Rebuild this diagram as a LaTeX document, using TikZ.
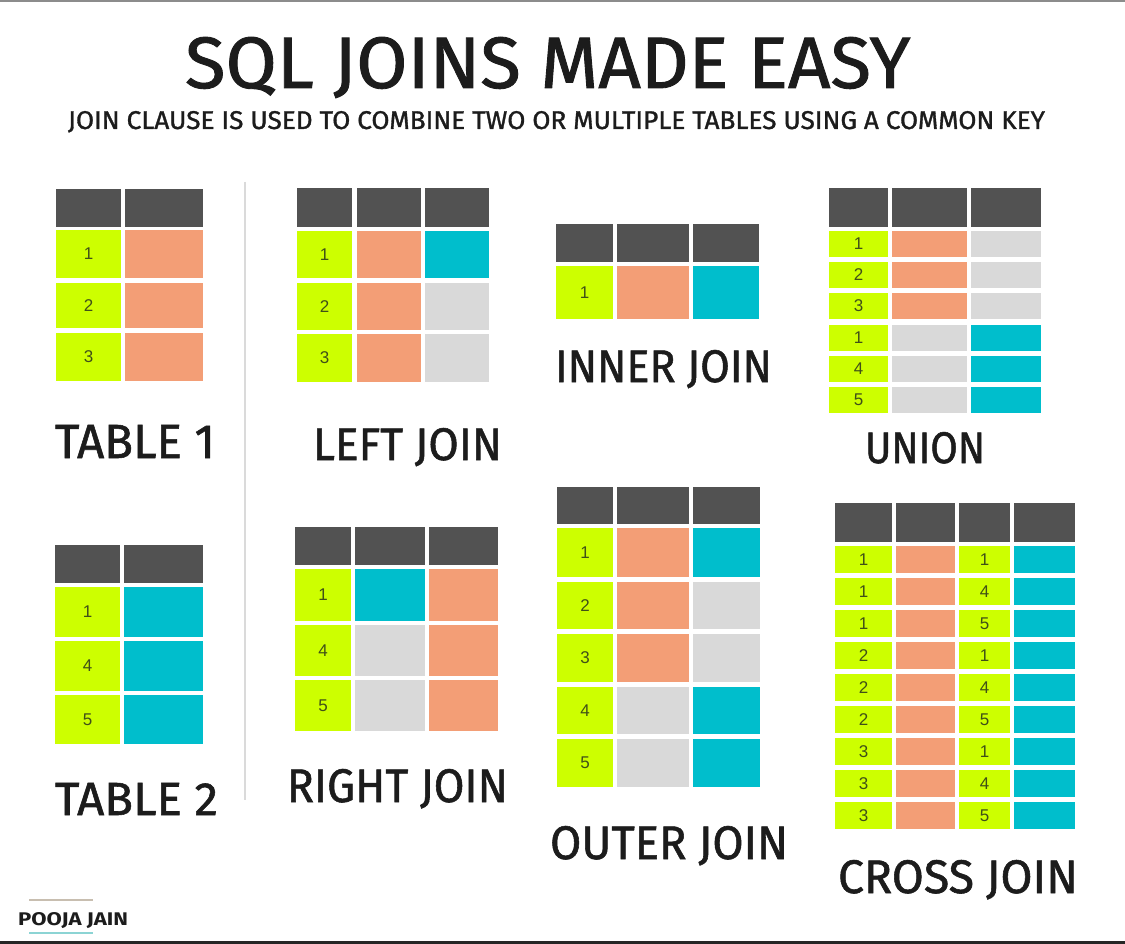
\documentclass[tikz,border=0pt]{standalone}
\usepackage{fontspec}
\usepackage{graphicx}
\setmainfont{Fira Sans}
\newfontfamily\digitfont{Liberation Sans}
\newfontfamily\brushfont[FakeBold=1.2]{Fira Sans}

\definecolor{sqlhdr}{RGB}{82,82,82}
\definecolor{sqllime}{RGB}{205,255,0}
\definecolor{sqlsalmon}{RGB}{243,158,118}
\definecolor{sqlteal}{RGB}{0,190,204}
\definecolor{sqlnull}{RGB}{217,217,217}
\definecolor{sqldigit}{RGB}{64,80,24}
\definecolor{sqlrule}{RGB}{218,218,218}
\definecolor{sqlink}{RGB}{28,28,28}
\definecolor{sigsand}{RGB}{200,190,176}
\definecolor{sigaqua}{RGB}{140,212,212}

% one table cell: name, x-left, x-right, y-top, y-bottom, style, text
\newcommand\cellat[7]{%
  \node[cellbox,#6,minimum width={#3-#2},minimum height={#5-#4}]
    (#1) at ({(#2+#3)/2},{(#4+#5)/2}) {#7};}

\tikzset{
  cellbox/.style={draw=none,inner sep=0pt,outer sep=0pt,
    font=\digitfont\fontsize{17}{17}\selectfont,text=sqldigit},
  hdrcell/.style={fill=sqlhdr},
  keycell/.style={fill=sqllime},
  leftcell/.style={fill=sqlsalmon},
  rightcell/.style={fill=sqlteal},
  nullcell/.style={fill=sqlnull},
  lbl/.style={inner sep=0pt,outer sep=0pt,anchor=base west,text=sqlink,font=\brushfont},
}

\begin{document}
\begin{tikzpicture}[x=1pt,y=-1pt]
\useasboundingbox (0,0) rectangle (1125,944);
\fill[white] (0,0) rectangle (1125,944);
% frame lines
\fill[gray!90] (0,0) rectangle (1125,2);
\fill[black!85] (0,941) rectangle (1125,944);

% heading
\node[lbl] (title) at (185,88)
  {\resizebox{725pt}{51pt}{SQL JOINS MADE EASY}};
\node[lbl] (subtitle) at (68,129)
  {\resizebox{977pt}{18pt}{JOIN CLAUSE IS USED TO COMBINE TWO OR MULTIPLE TABLES USING A COMMON KEY}};

% divider between source tables and results
\coordinate (divtop) at (245,182);
\coordinate (divbot) at (245,800);
\draw[sqlrule,line width=2pt] (divtop) -- (divbot);

% ---- TABLE 1
\foreach \c/\xa/\xb in {1/56/121,2/125/203}
  \cellat{tA-h\c}{\xa}{\xb}{189}{227}{hdrcell}{};
\foreach \r/\ya/\yb/\n in {1/230/278/1,2/283/328/2,3/333/381/3}{
  \cellat{tA-\r-1}{56}{121}{\ya}{\yb}{keycell}{\n}
  \cellat{tA-\r-2}{125}{203}{\ya}{\yb}{leftcell}{}
}
\node[lbl] (lblA) at (55,458) {\resizebox{160pt}{33pt}{TABLE 1}};

% ---- TABLE 2
\foreach \c/\xa/\xb in {1/55/120,2/124/203}
  \cellat{tB-h\c}{\xa}{\xb}{545}{583}{hdrcell}{};
\foreach \r/\ya/\yb/\n in {1/587/637/1,2/641/691/4,3/695/744/5}{
  \cellat{tB-\r-1}{55}{120}{\ya}{\yb}{keycell}{\n}
  \cellat{tB-\r-2}{124}{203}{\ya}{\yb}{rightcell}{}
}
\node[lbl] (lblB) at (55,815) {\resizebox{163pt}{32pt}{TABLE 2}};

% ---- LEFT JOIN
\foreach \c/\xa/\xb in {1/297/352,2/357/421,3/425/489}
  \cellat{lj-h\c}{\xa}{\xb}{188}{227}{hdrcell}{};
\foreach \r/\ya/\yb/\n/\s in {1/231/278/1/rightcell,2/283/330/2/nullcell,3/334/382/3/nullcell}{
  \cellat{lj-\r-1}{297}{352}{\ya}{\yb}{keycell}{\n}
  \cellat{lj-\r-2}{357}{421}{\ya}{\yb}{leftcell}{}
  \cellat{lj-\r-3}{425}{489}{\ya}{\yb}{\s}{}
}
\node[lbl] (lblLJ) at (313,460) {\resizebox{189pt}{32pt}{LEFT JOIN}};

% ---- INNER JOIN
\foreach \c/\xa/\xb in {1/556/613,2/617/689,3/693/759}
  \cellat{ij-h\c}{\xa}{\xb}{224}{262}{hdrcell}{};
\cellat{ij-1-1}{556}{613}{266}{319}{keycell}{1}
\cellat{ij-1-2}{617}{689}{266}{319}{leftcell}{}
\cellat{ij-1-3}{693}{759}{266}{319}{rightcell}{}
\node[lbl] (lblIJ) at (555,382) {\resizebox{217pt}{32pt}{INNER JOIN}};

% ---- UNION
\foreach \c/\xa/\xb in {1/829/888,2/892/967,3/971/1041}
  \cellat{un-h\c}{\xa}{\xb}{188}{227}{hdrcell}{};
\foreach \r/\ya/\yb/\n/\sa/\sb in {1/231/257/1/leftcell/nullcell,2/262/288/2/leftcell/nullcell,
    3/293/319/3/leftcell/nullcell,4/325/351/1/nullcell/rightcell,
    5/356/382/4/nullcell/rightcell,6/387/413/5/nullcell/rightcell}{
  \cellat{un-\r-1}{829}{888}{\ya}{\yb}{keycell}{\n}
  \cellat{un-\r-2}{892}{967}{\ya}{\yb}{\sa}{}
  \cellat{un-\r-3}{971}{1041}{\ya}{\yb}{\sb}{}
}
\node[lbl] (lblUN) at (865,463) {\resizebox{120pt}{31pt}{UNION}};

% ---- RIGHT JOIN
\foreach \c/\xa/\xb in {1/295/351,2/355/425,3/429/498}
  \cellat{rj-h\c}{\xa}{\xb}{527}{565}{hdrcell}{};
\foreach \r/\ya/\yb/\n/\s in {1/569/621/1/rightcell,2/625/676/4/nullcell,3/680/731/5/nullcell}{
  \cellat{rj-\r-1}{295}{351}{\ya}{\yb}{keycell}{\n}
  \cellat{rj-\r-2}{355}{425}{\ya}{\yb}{\s}{}
  \cellat{rj-\r-3}{429}{498}{\ya}{\yb}{leftcell}{}
}
\node[lbl] (lblRJ) at (287,802) {\resizebox{221pt}{33pt}{RIGHT JOIN}};

% ---- OUTER JOIN
\foreach \c/\xa/\xb in {1/557/613,2/617/689,3/693/760}
  \cellat{oj-h\c}{\xa}{\xb}{487}{524}{hdrcell}{};
\foreach \r/\ya/\yb/\n/\sa/\sb in {1/528/577/1/leftcell/rightcell,2/582/629/2/leftcell/nullcell,
    3/634/682/3/leftcell/nullcell,4/687/734/4/nullcell/rightcell,5/739/787/5/nullcell/rightcell}{
  \cellat{oj-\r-1}{557}{613}{\ya}{\yb}{keycell}{\n}
  \cellat{oj-\r-2}{617}{689}{\ya}{\yb}{\sa}{}
  \cellat{oj-\r-3}{693}{760}{\ya}{\yb}{\sb}{}
}
\node[lbl] (lblOJ) at (550,859) {\resizebox{238pt}{33pt}{OUTER JOIN}};

% ---- CROSS JOIN
\foreach \c/\xa/\xb in {1/835/892,2/896/955,3/959/1010,4/1014/1075}
  \cellat{cj-h\c}{\xa}{\xb}{503}{542}{hdrcell}{};
\foreach \r/\a/\b [evaluate=\r as \ya using 546+32*(\r-1),
                   evaluate=\r as \yb using 573+32*(\r-1)] in
    {1/1/1,2/1/4,3/1/5,4/2/1,5/2/4,6/2/5,7/3/1,8/3/4,9/3/5}{
  \cellat{cj-\r-1}{835}{892}{\ya}{\yb}{keycell}{\a}
  \cellat{cj-\r-2}{896}{955}{\ya}{\yb}{leftcell}{}
  \cellat{cj-\r-3}{959}{1010}{\ya}{\yb}{keycell}{\b}
  \cellat{cj-\r-4}{1014}{1075}{\ya}{\yb}{rightcell}{}
}
\node[lbl] (lblCJ) at (838,893) {\resizebox{240pt}{33pt}{CROSS JOIN}};

% ---- author mark
\fill[sigsand] (29,899) rectangle (93,901);
\fill[sigaqua] (29,932) rectangle (93,934);
\node[lbl,font=\bfseries] (author) at (18,925) {\resizebox{110pt}{13pt}{POOJA JAIN}};
\end{tikzpicture}
\end{document}
